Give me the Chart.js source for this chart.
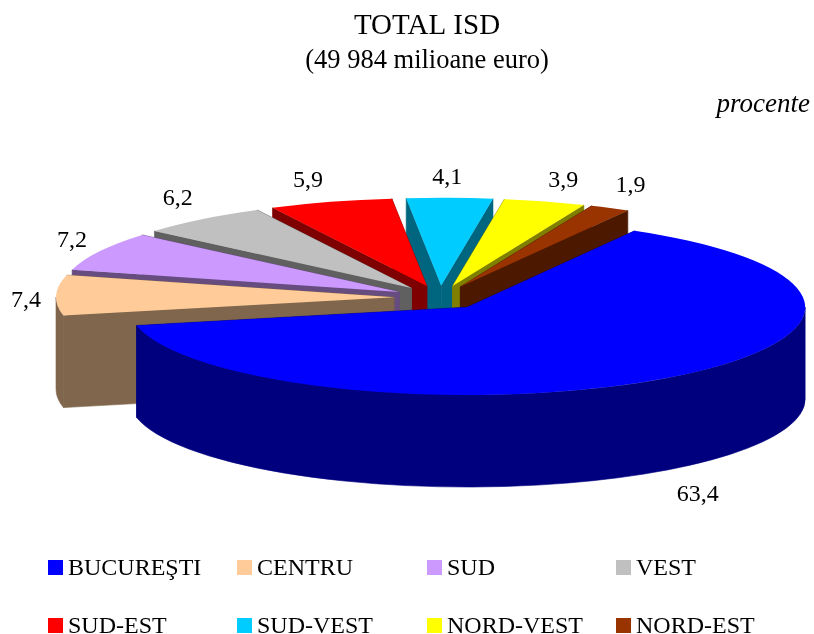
<!DOCTYPE html>
<html>
<head>
<meta charset="utf-8">
<style>
  html, body { margin: 0; padding: 0; background: #fff; }
  canvas { display: block; }
</style>
<script src="https://cdn.jsdelivr.net/npm/chart.js@4"></script>
</head>
<body>
<canvas id="isd-chart" width="814" height="634"></canvas>
<script>
(function () {
  "use strict";

  var categories = ["BUCUREŞTI", "CENTRU", "SUD", "VEST", "SUD-EST", "SUD-VEST", "NORD-VEST", "NORD-EST"];
  var shares = [63.4, 7.4, 7.2, 6.2, 5.9, 4.1, 3.9, 1.9];
  var colors = ["#0000FF", "#FFCC99", "#CC99FF", "#C0C0C0", "#FF0000", "#00CCFF", "#FFFF00", "#993300"];
  var titleText = "TOTAL ISD";
  var subtitleText = "(49 984 milioane euro)";
  var unitLabel = "procente";

  var FONT = '"Liberation Serif", "Times New Roman", serif';

  // projection of the flat pie into the tilted view
  var view = { cx: 440, cy: 297.5, tilt: 0.26, explode: 46, depth: 92 };
  // nudge of each value label from the outer edge of its slice
  var labelNudge = [[31, 117], [-30, 5], [-27.5, -11], [-24, -20], [-22.5, -21], [-2.5, -20], [18.5, -21], [20.5, -22]];
  var legendCols = [48, 237, 427, 616];
  var legendRows = [575, 633];

  function darken(hex) {
    var n = parseInt(hex.slice(1), 16);
    return "rgb(" + ((n >> 16) >> 1) + "," + (((n >> 8) & 255) >> 1) + "," + ((n & 255) >> 1) + ")";
  }

  function apexOf(arc) {
    var mid = (arc.startAngle + arc.endAngle) / 2;
    return {
      mid: mid,
      x: view.cx + view.explode * Math.cos(mid),
      y: view.cy + view.explode * view.tilt * Math.sin(mid),
    };
  }

  function drawWalls(ctx, arc, color) {
    var p = apexOf(arc);
    var r = arc.outerRadius;
    var ry = r * view.tilt;
    var d = view.depth;
    ctx.fillStyle = ctx.strokeStyle = darken(color);
    ctx.lineWidth = 0.6; // hides the seams between wall pieces

    [arc.startAngle, arc.endAngle].forEach(function (a) {
      var ex = p.x + r * Math.cos(a);
      var ey = p.y + ry * Math.sin(a);
      ctx.beginPath();
      ctx.moveTo(p.x, p.y);
      ctx.lineTo(ex, ey);
      ctx.lineTo(ex, ey + d);
      ctx.lineTo(p.x, p.y + d);
      ctx.closePath();
      ctx.fill();
      ctx.stroke();
    });

    // only the front half of the rim can be seen
    var from = Math.max(arc.startAngle, 0);
    var to = Math.min(arc.endAngle, Math.PI);
    if (to > from) {
      ctx.beginPath();
      ctx.ellipse(p.x, p.y, r, ry, 0, from, to);
      ctx.ellipse(p.x, p.y + d, r, ry, 0, to, from, true);
      ctx.closePath();
      ctx.fill();
      ctx.stroke();
    }
  }

  // draws the library's arcs back to front, each on top of its own walls
  var pie3d = {
    id: "pie3d",
    beforeDatasetDraw: function (chart, args) {
      var ctx = chart.ctx;
      var arcs = args.meta.data;
      var order = arcs.map(function (a, i) { return i; });
      order.sort(function (i, j) {
        return Math.sin(apexOf(arcs[i]).mid) - Math.sin(apexOf(arcs[j]).mid);
      });
      order.forEach(function (i) {
        var arc = arcs[i];
        var p = apexOf(arc);
        drawWalls(ctx, arc, colors[i]);
        ctx.save();
        ctx.translate(p.x, p.y);
        ctx.scale(1, view.tilt);
        ctx.translate(-arc.x, -arc.y);
        arc.draw(ctx);
        ctx.restore();
      });
      return false;
    },
    afterDraw: function (chart) {
      var ctx = chart.ctx;
      var arcs = chart.getDatasetMeta(0).data;
      ctx.save();
      ctx.fillStyle = "#000";
      ctx.font = "24px " + FONT;
      ctx.textAlign = "center";
      ctx.textBaseline = "middle";
      arcs.forEach(function (arc, i) {
        var p = apexOf(arc);
        var x = p.x + arc.outerRadius * Math.cos(p.mid) + labelNudge[i][0];
        var y = p.y + arc.outerRadius * view.tilt * Math.sin(p.mid) + labelNudge[i][1];
        ctx.fillText(String(shares[i]).replace(".", ","), x, y);
      });

      ctx.textAlign = "right";
      ctx.textBaseline = "alphabetic";
      ctx.font = "italic 27px " + FONT;
      ctx.fillText(unitLabel, 810, 112);

      ctx.textAlign = "left";
      ctx.font = "24px " + FONT;
      categories.forEach(function (name, i) {
        var x = legendCols[i % 4];
        var y = legendRows[Math.floor(i / 4)];
        ctx.fillStyle = colors[i];
        ctx.fillRect(x, y - 15, 15, 15);
        ctx.fillStyle = "#000";
        ctx.fillText(name, x + 20, y);
      });
      ctx.restore();
    },
  };

  new Chart(document.getElementById("isd-chart"), {
    type: "pie",
    data: {
      labels: categories,
      datasets: [{ data: shares, backgroundColor: colors, borderWidth: 0 }],
    },
    options: {
      responsive: false,
      animation: false,
      events: [],
      rotation: 29.7,
      radius: 338,
      layout: { padding: { left: 44, right: 4, top: 9 } },
      plugins: {
        legend: { display: false },
        tooltip: { enabled: false },
        title: {
          display: true,
          text: titleText,
          color: "#000",
          font: { family: FONT, size: 29, weight: "normal", lineHeight: 1.2 },
          padding: { top: 0, bottom: 1 },
        },
        subtitle: {
          display: true,
          text: subtitleText,
          color: "#000",
          font: { family: FONT, size: 26.5, weight: "normal", lineHeight: 1.2 },
          padding: 0,
        },
      },
    },
    plugins: [pie3d],
  });
})();
</script>
</body>
</html>
